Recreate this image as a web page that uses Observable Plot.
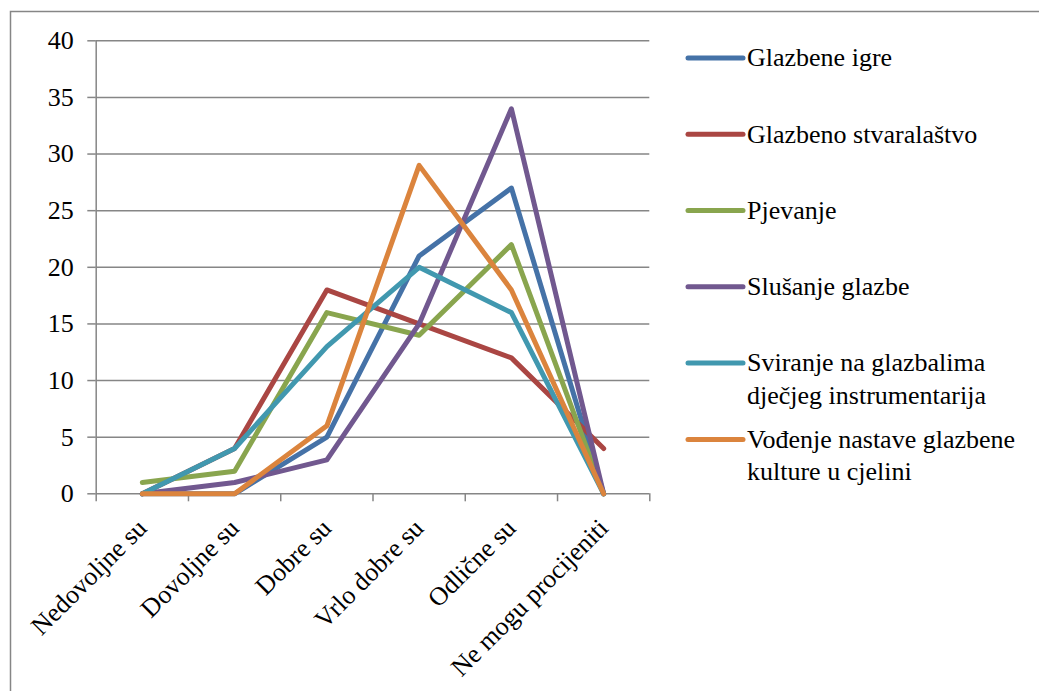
<!DOCTYPE html>
<html>
<head>
<meta charset="utf-8">
<script src="https://cdn.jsdelivr.net/npm/d3@7"></script>
<script src="https://cdn.jsdelivr.net/npm/@observablehq/plot@0.6"></script>
<style>
html, body { margin: 0; padding: 0; background: #fff; overflow: hidden; }
#chart svg { display: block; }
#chart svg text, #chart svg tspan {
  font-family: "Liberation Serif", Tinos, "Times New Roman", Times, "DejaVu Serif", "Noto Serif", serif !important;
}
</style>
</head>
<body>
<div id="chart"></div>
<script>
// ---- data ----
const categories = ["Nedovoljne su", "Dovoljne su", "Dobre su", "Vrlo dobre su", "Odlične su", "Ne mogu procijeniti"];
const seriesNames = [
  "Glazbene igre",
  "Glazbeno stvaralaštvo",
  "Pjevanje",
  "Slušanje glazbe",
  "Sviranje na glazbalima dječjeg instrumentarija",
  "Vođenje nastave glazbene kulture u cjelini"
];
const legendLabels = [
  ["Glazbene igre"],
  ["Glazbeno stvaralaštvo"],
  ["Pjevanje"],
  ["Slušanje glazbe"],
  ["Sviranje na glazbalima", "dječjeg instrumentarija"],
  ["Vođenje nastave glazbene", "kulture u cjelini"]
];
const glazbeneIgre         = [0, 0, 5, 21, 27, 0];
const glazbenoStvaralastvo = [0, 4, 18, 15, 12, 4];
const pjevanje             = [1, 2, 16, 14, 22, 0];
const slusanjeGlazbe       = [0, 1, 3, 15, 34, 0];
const sviranje             = [0, 4, 13, 20, 16, 0];
const vodenjeNastave       = [0, 0, 6, 29, 18, 0];
const yTicks = [0, 5, 10, 15, 20, 25, 30, 35, 40];
const colors = ["#4572A7", "#AA4643", "#89A54E", "#71588F", "#4198AF", "#DB843D"];

// ---- layout ----
const W = 1039, H = 691;
const mL = 95.7, mR = 389.7, mT = 40.3, mB = 197.7;
const gridColor = "#868686";
const fontFamily = "'Liberation Serif', Tinos, 'Times New Roman', 'DejaVu Serif', serif";
const fs = 26;
const lineW = 5;

const allSeries = [glazbeneIgre, glazbenoStvaralastvo, pjevanje, slusanjeGlazbe, sviranje, vodenjeNastave];
const rows = [];
allSeries.forEach((vals, s) => vals.forEach((v, i) => rows.push({series: seriesNames[s], i, value: v})));

const n = categories.length;
const centers = d3.range(n);
const bounds = d3.range(n + 1).map(k => k - 0.5);

const chart = Plot.plot({
  width: W, height: H,
  marginLeft: mL, marginRight: mR, marginTop: mT, marginBottom: mB,
  style: {fontFamily, fontSize: fs + "px", color: "#000", background: "#fff"},
  x: {type: "linear", domain: [-0.5, n - 0.5]},
  y: {domain: [0, 40]},
  color: {domain: seriesNames, range: colors},
  marks: [
    Plot.ruleY(yTicks, {x1: -0.5, x2: n - 0.5, stroke: gridColor, strokeWidth: 1.5}),
    Plot.ruleX([-0.5], {y1: 0, y2: 40, stroke: gridColor, strokeWidth: 1.5}),
    Plot.axisY({ticks: yTicks, tickSize: 8.4, tickPadding: 14, stroke: gridColor, strokeWidth: 1.5, label: null, fontSize: fs, fill: "#000"}),
    Plot.axisX({ticks: bounds, tickSize: 8, tickFormat: () => "", stroke: gridColor, strokeWidth: 1.5, label: null}),
    Plot.axisX({ticks: centers, tickSize: 0, tickPadding: 30, tickRotate: -45, tickFormat: i => categories[i], label: null, fontSize: fs, fill: "#000"}),
    Plot.line(rows, {x: "i", y: "value", z: "series", stroke: "series", strokeWidth: lineW, strokeLinejoin: "round", strokeLinecap: "round"})
  ]
});

document.getElementById("chart").append(chart);

// ---- frame and legend (appended to the same SVG) ----
const svg = d3.select(chart);
svg.append("path")
  .attr("d", `M10.5,${H}V11.5H${W}`)
  .attr("fill", "none").attr("stroke", gridColor).attr("stroke-width", 1.5);

const legX = 688, legW = 55, legTop = 57.9, legStep = 76.3, lineH = 32.2;
const leg = svg.append("g")
  .attr("font-family", fontFamily).attr("font-size", fs).attr("text-anchor", "start");
legendLabels.forEach((lines, k) => {
  const y = legTop + k * legStep;
  leg.append("line")
    .attr("x1", legX).attr("x2", legX + legW).attr("y1", y).attr("y2", y)
    .attr("stroke", colors[k]).attr("stroke-width", lineW).attr("stroke-linecap", "round");
  const t = leg.append("text").attr("x", legX + legW + 4).attr("y", y).attr("fill", "#000").attr("text-anchor", "start");
  lines.forEach((ln, j) => t.append("tspan").attr("x", legX + legW + 4).attr("dy", j === 0 ? "0.32em" : lineH).text(ln));
});
</script>
</body>
</html>
